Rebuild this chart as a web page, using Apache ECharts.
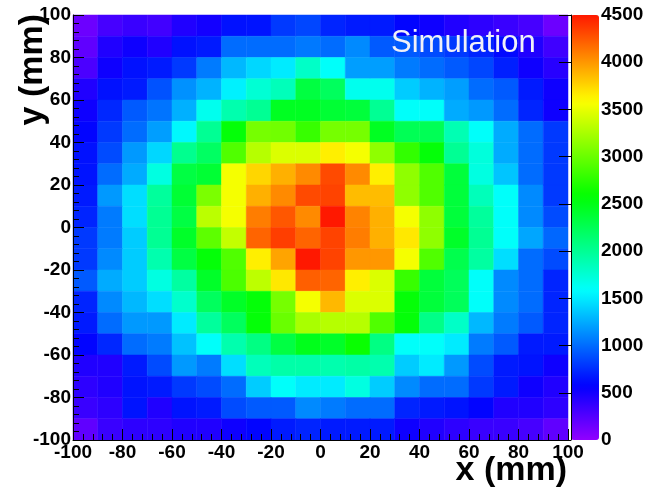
<!DOCTYPE html>
<html>
<head>
<meta charset="utf-8">
<script src="https://cdn.jsdelivr.net/npm/echarts@6/dist/echarts.min.js"></script>
<style>html,body{margin:0;padding:0;background:#fff;}#c{width:649px;height:487px;}</style>
</head>
<body>
<div id="c"></div>
<script>
// bin lower edges (mm)
const xEdges = [-100,-90,-80,-70,-60,-50,-40,-30,-20,-10,0,10,20,30,40,50,60,70,80,90];
const yEdgesTopDown = [90,80,70,60,50,40,30,20,10,0,-10,-20,-30,-40,-50,-60,-70,-80,-90,-100];
const binWidth = 10;
// counts per bin, rows from top (y = 90..100) to bottom (y = -100..-90), columns x = -100 .. 90
const counts = [
  [150,300,350,320,450,500,640,650,800,850, 720,680,680,580,520,450,400,350,300,150],
  [200,450,520,450,640,680,1000,1000,1000,1050, 1000,1120,930,930,870,800,720,600,450,330],
  [280,520,640,680,800,1060,1300,1420,1500,1800, 1600,1200,1200,1060,1000,930,850,700,520,420],
  [450,640,680,900,1150,1280,1530,1750,1850,2330, 2220,1650,1650,1380,1280,1200,1000,930,680,520],
  [520,730,930,1030,1270,1650,1900,2000,2450,2450, 2380,2350,2000,1600,1600,1250,1180,1000,720,520],
  [580,800,1000,1200,1560,2000,2570,3050,3030,2800, 3050,3050,2450,2250,2250,1880,1600,1250,1000,800],
  [640,870,1180,1420,2020,2200,2900,3300,3450,3450, 3650,3550,3150,2780,2570,2000,1720,1250,1000,800],
  [650,1000,1250,1700,2320,2380,3550,3750,3900,4050, 4300,4050,3650,3150,2900,2350,1700,1350,1000,800],
  [680,1180,1450,1970,2380,3070,3550,3900,4050,4300, 4330,3850,3850,3150,2900,2350,1850,1600,1120,800],
  [720,1060,1450,2000,2320,3320,3550,4100,4250,4050, 4500,4080,3900,3550,3150,2350,1970,1600,1120,870],
  [800,1060,1380,2000,2420,2950,3350,4200,4350,4200, 4330,4100,3900,3680,3150,2420,2000,1600,1230,980],
  [800,1120,1380,1900,2320,2570,2900,3650,3950,4500, 4330,4000,4000,3550,2900,2280,1950,1450,1000,870],
  [930,1250,1380,1700,1950,2420,2880,3330,3680,4220, 4200,3650,3450,2800,2350,2230,1600,1120,1000,720],
  [720,1120,1300,1450,1780,2220,2430,2570,3050,3550, 3870,3450,3450,2580,2350,2230,1600,1120,1000,720],
  [680,1000,1180,1180,1500,1970,2220,2570,3000,3250, 3300,3300,2900,2570,2050,1800,1300,1060,930,720],
  [580,730,1000,1060,1340,1600,1900,2070,2320,2480, 2420,2620,2070,1600,1600,1500,1060,930,680,680],
  [450,450,680,870,1180,1060,1450,1850,1920,1920, 1900,1930,1900,1380,1500,1180,870,680,650,520],
  [400,450,650,680,800,870,1000,1380,1600,1500, 1500,1700,1380,1120,1000,1000,800,680,520,450],
  [350,400,650,450,650,680,870,930,930,1120, 1060,1000,1000,720,680,650,580,450,450,400],
  [200,350,400,400,450,450,520,580,680,720, 680,680,680,520,450,400,350,350,300,200]
];
const zMin = 0, zMax = 4500, zStep = 500;

// ROOT "pretty" palette (hue 280 -> 0), low values first
function hsl2rgb(h){
  const f = n => { const k = (n + h/30) % 12;
    const v = 0.5 - 0.5*Math.max(-1, Math.min(k-3, 9-k, 1)); return Math.round(v*255); };
  return 'rgb(' + f(0) + ',' + f(8) + ',' + f(4) + ')';
}
const palette = [];
for (let i = 0; i < 49; i++) palette.push(hsl2rgb(280 - (i+1)*280/50));

const data = [];
yEdgesTopDown.forEach((y, r) => xEdges.forEach((x, c) => data.push([x, y, counts[r][c]])));

const FONT = 'Liberation Sans';
const plain = v => String(v);
const chart = echarts.init(document.getElementById('c'), null, {renderer: 'canvas'});
chart.setOption({
  animation: false,
  backgroundColor: '#ffffff',
  grid: [
    {left: 73, top: 15, width: 495, height: 425},
    {left: 571, top: 15, width: 28, height: 425}
  ],
  xAxis: [
    {type: 'value', gridIndex: 0, min: -100, max: 100, interval: 20, z: 10,
     axisLine: {show: true, onZero: false, lineStyle: {color: '#000', width: 1}},
     axisTick: {show: true, inside: true, length: 11, lineStyle: {color: '#000', width: 1}},
     minorTick: {show: true, splitNumber: 5, length: 6, lineStyle: {color: '#000', width: 1}},
     splitLine: {show: false},
     axisLabel: {color: '#000', fontFamily: FONT, fontWeight: 'bold', fontSize: 19, margin: 3, formatter: plain}},
    {type: 'value', gridIndex: 1, min: 0, max: 1, show: false}
  ],
  yAxis: [
    {type: 'value', gridIndex: 0, min: -100, max: 100, interval: 20, z: 10,
     axisLine: {show: true, onZero: false, lineStyle: {color: '#000', width: 1}},
     axisTick: {show: true, inside: true, length: 11, lineStyle: {color: '#000', width: 1}},
     minorTick: {show: true, splitNumber: 5, length: 6, lineStyle: {color: '#000', width: 1}},
     splitLine: {show: false},
     axisLabel: {color: '#000', fontFamily: FONT, fontWeight: 'bold', fontSize: 19, margin: 2, formatter: plain}},
    {type: 'value', gridIndex: 1, min: zMin, max: zMax, interval: zStep, position: 'right', z: 10,
     axisLine: {show: true, lineStyle: {color: '#000', width: 1}},
     axisTick: {show: true, inside: true, length: 12, lineStyle: {color: '#000', width: 1}},
     splitLine: {show: false},
     axisLabel: {color: '#000', fontFamily: FONT, fontWeight: 'bold', fontSize: 19, margin: 2, formatter: plain}}
  ],
  visualMap: {
    type: 'continuous', min: zMin, max: zMax, dimension: 2, seriesIndex: 0,
    calculable: false, hoverLink: false, text: null, padding: 0,
    orient: 'vertical', left: 571, top: 15, itemWidth: 28, itemHeight: 425,
    inRange: {color: palette}
  },
  series: [{
    type: 'custom', xAxisIndex: 0, yAxisIndex: 0, z: 1,
    encode: {x: 0, y: 1},
    data: data,
    renderItem: function (params, api) {
      const x0 = api.value(0), y0 = api.value(1);
      const p0 = api.coord([x0, y0 + binWidth]);
      const p1 = api.coord([x0 + binWidth, y0]);
      const col = api.visual('color');
      return {type: 'rect', shape: {x: p0[0], y: p0[1], width: p1[0] - p0[0], height: p1[1] - p0[1]},
              style: {fill: col, stroke: col, lineWidth: 0.5}};
    }
  }],
  graphic: [
    {type: 'text', x: 391, y: 43, style: {text: 'Simulation', fill: '#f0f0f8', font: '31px "Liberation Sans"', verticalAlign: 'middle', align: 'left'}, z: 100},
    {type: 'text', x: 567, y: 471, style: {text: 'x (mm)', fill: '#000', font: 'bold 34px "Liberation Sans"', verticalAlign: 'middle', align: 'right'}, z: 100},
    {type: 'text', x: 33, y: 14, rotation: Math.PI/2, style: {text: 'y (mm)', fill: '#000', font: 'bold 34px "Liberation Sans"', verticalAlign: 'middle', align: 'right'}, z: 100}
  ]
});
</script>
</body>
</html>
